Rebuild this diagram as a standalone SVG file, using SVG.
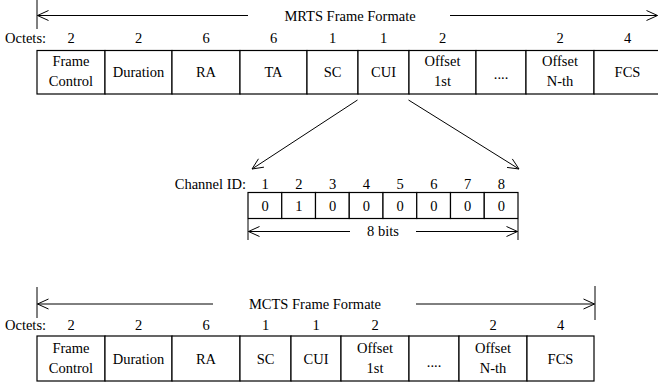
<svg xmlns="http://www.w3.org/2000/svg" width="658" height="385" viewBox="0 0 658 385">
<defs>
<style>
text{font-family:"Liberation Serif",serif;font-size:14.5px;fill:#000;text-anchor:middle}
.l{fill:none;stroke:#000;stroke-width:1}
.c{fill:#fff;stroke:#000;stroke-width:1.2}
.e{text-anchor:end}
.s{text-anchor:start}
</style>
</defs>
<rect width="658" height="385" fill="#fff"/>

<g id="connectors" class="l">
<line x1="37" y1="0" x2="37" y2="29"/>
<line x1="248" y1="15.5" x2="37.5" y2="15.5"/>
<polyline points="48.5,10.5 37.5,15.5 48.5,20.5"/>
<line x1="450" y1="15.5" x2="657.5" y2="15.5"/>
<polyline points="646.5,10.5 657.5,15.5 646.5,20.5"/>
<line x1="357.5" y1="100" x2="252" y2="169"/>
<polyline points="263.94,167.16 252,169 258.47,158.79"/>
<line x1="408.5" y1="100" x2="519" y2="169"/>
<polyline points="507.02,167.41 519,169 512.32,158.93"/>
<line x1="248" y1="219" x2="248" y2="240"/>
<line x1="518" y1="219" x2="518" y2="240"/>
<line x1="350" y1="231.5" x2="248.5" y2="231.5"/>
<polyline points="259.5,226.5 248.5,231.5 259.5,236.5"/>
<line x1="416" y1="231.5" x2="517.5" y2="231.5"/>
<polyline points="506.5,226.5 517.5,231.5 506.5,236.5"/>
<line x1="37" y1="287" x2="37" y2="318"/>
<line x1="595" y1="286" x2="595" y2="320"/>
<line x1="213" y1="304" x2="37.5" y2="304"/>
<polyline points="48.5,299 37.5,304 48.5,309"/>
<line x1="416" y1="304" x2="594.5" y2="304"/>
<polyline points="583.5,299 594.5,304 583.5,309"/>
</g>

<g id="mrts-title"><text x="350" y="20.5">MRTS Frame Formate</text></g>
<g id="mrts-octets">
<text class="s" x="5" y="43">Octets:</text>
<text x="71" y="43">2</text><text x="138.5" y="43">2</text><text x="206" y="43">6</text><text x="273.5" y="43">6</text>
<text x="332.5" y="43">1</text><text x="383.5" y="43">1</text><text x="442.5" y="43">2</text>
<text x="560" y="43">2</text><text x="627.5" y="43">4</text>
</g>
<g id="mrts-frame">
<rect class="c" x="37" y="50.5" width="68" height="43.5"/>
<rect class="c" x="105" y="50.5" width="67" height="43.5"/>
<rect class="c" x="172" y="50.5" width="68" height="43.5"/>
<rect class="c" x="240" y="50.5" width="67" height="43.5"/>
<rect class="c" x="307" y="50.5" width="51" height="43.5"/>
<rect class="c" x="358" y="50.5" width="51" height="43.5"/>
<rect class="c" x="409" y="50.5" width="67" height="43.5"/>
<rect class="c" x="476" y="50.5" width="50" height="43.5"/>
<rect class="c" x="526" y="50.5" width="68" height="43.5"/>
<rect class="c" x="594" y="50.5" width="68" height="43.5"/>
<text x="71" y="66">Frame</text><text x="71" y="86">Control</text>
<text x="138.5" y="77">Duration</text>
<text x="206" y="77">RA</text>
<text x="273.5" y="77">TA</text>
<text x="332.5" y="77">SC</text>
<text x="383.5" y="77">CUI</text>
<text x="442.5" y="66">Offset</text><text x="442.5" y="86">1st</text>
<text x="501" y="79">....</text>
<text x="560" y="66">Offset</text><text x="560" y="86">N-th</text>
<text x="627.5" y="77">FCS</text>
</g>

<g id="channel-id">
<text class="e" x="246" y="189">Channel ID:</text>
<text x="265" y="189">1</text><text x="298.8" y="189">2</text><text x="332.5" y="189">3</text><text x="366.3" y="189">4</text>
<text x="400" y="189">5</text><text x="433.8" y="189">6</text><text x="467.5" y="189">7</text><text x="501.3" y="189">8</text>
<rect class="c" x="248" y="192.5" width="33.75" height="26"/>
<rect class="c" x="281.75" y="192.5" width="33.75" height="26"/>
<rect class="c" x="315.5" y="192.5" width="33.75" height="26"/>
<rect class="c" x="349.25" y="192.5" width="33.75" height="26"/>
<rect class="c" x="383" y="192.5" width="33.75" height="26"/>
<rect class="c" x="416.75" y="192.5" width="33.75" height="26"/>
<rect class="c" x="450.5" y="192.5" width="33.75" height="26"/>
<rect class="c" x="484.25" y="192.5" width="33.75" height="26"/>
<text x="265" y="210.5">0</text><text x="298.8" y="210.5">1</text><text x="332.5" y="210.5">0</text><text x="366.3" y="210.5">0</text>
<text x="400" y="210.5">0</text><text x="433.8" y="210.5">0</text><text x="467.5" y="210.5">0</text><text x="501.3" y="210.5">0</text>
<text x="383" y="236">8 bits</text>
</g>

<g id="mcts-title"><text x="315" y="308.5">MCTS Frame Formate</text></g>
<g id="mcts-octets">
<text class="s" x="5" y="330">Octets:</text>
<text x="71" y="330">2</text><text x="138.5" y="330">2</text><text x="206" y="330">6</text>
<text x="265.5" y="330">1</text><text x="316" y="330">1</text><text x="375" y="330">2</text>
<text x="493" y="330">2</text><text x="560.5" y="330">4</text>
</g>
<g id="mcts-frame">
<rect class="c" x="37" y="336" width="68" height="45"/>
<rect class="c" x="105" y="336" width="67" height="45"/>
<rect class="c" x="172" y="336" width="68" height="45"/>
<rect class="c" x="240" y="336" width="51" height="45"/>
<rect class="c" x="291" y="336" width="50" height="45"/>
<rect class="c" x="341" y="336" width="68" height="45"/>
<rect class="c" x="409" y="336" width="50" height="45"/>
<rect class="c" x="459" y="336" width="68" height="45"/>
<rect class="c" x="527" y="336" width="67" height="45"/>
<text x="71" y="353">Frame</text><text x="71" y="373">Control</text>
<text x="138.5" y="364">Duration</text>
<text x="206" y="364">RA</text>
<text x="265.5" y="364">SC</text>
<text x="316" y="364">CUI</text>
<text x="375" y="353">Offset</text><text x="375" y="373">1st</text>
<text x="434" y="367">....</text>
<text x="493" y="353">Offset</text><text x="493" y="373">N-th</text>
<text x="560.5" y="364">FCS</text>
</g>
</svg>
